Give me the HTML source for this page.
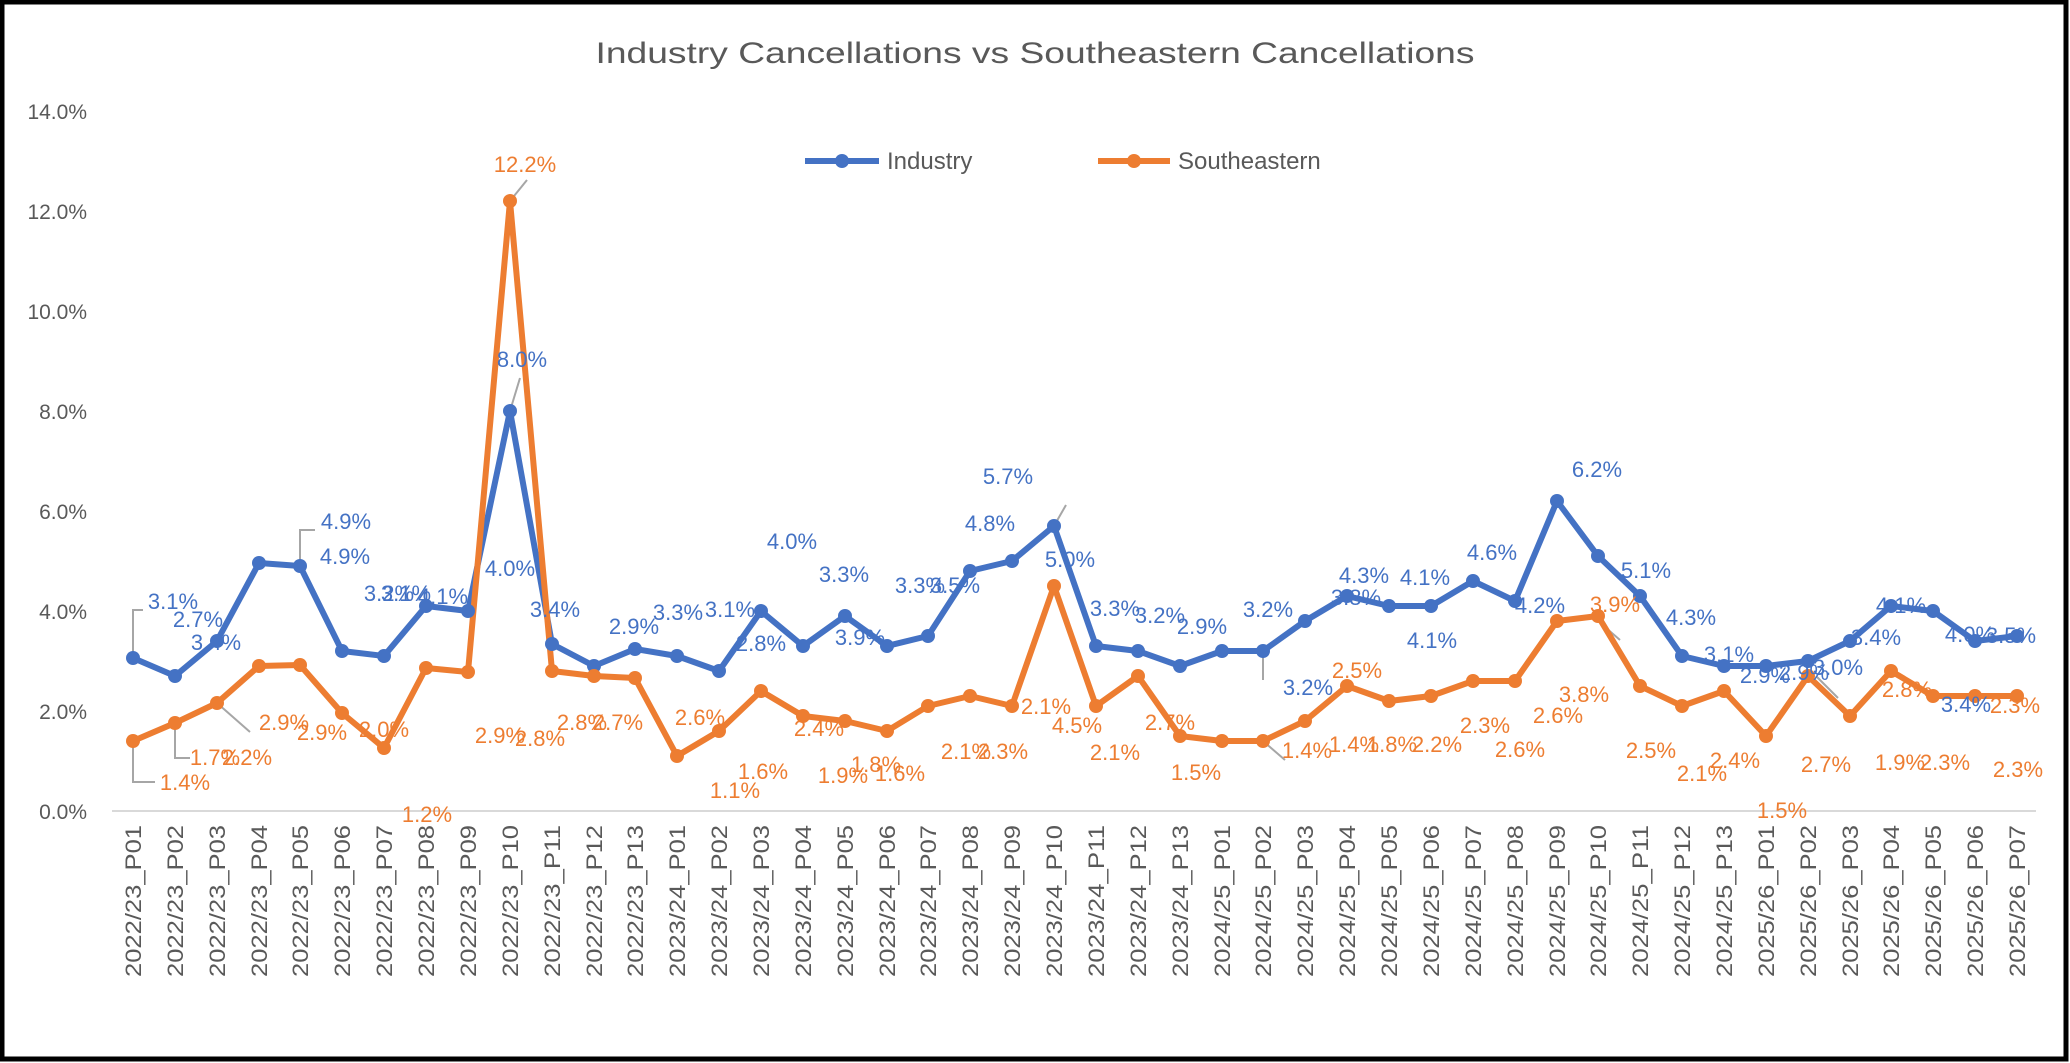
<!DOCTYPE html>
<html><head><meta charset="utf-8"><style>
html,body{margin:0;padding:0;background:#fff}
svg{display:block}
text{font-family:"Liberation Sans",sans-serif}
</style></head><body>
<svg width="2070" height="1063" viewBox="0 0 2070 1063" xmlns="http://www.w3.org/2000/svg">
<rect x="0" y="0" width="2070" height="1063" fill="#fff"/>
<rect x="2" y="2" width="2064" height="1057" fill="none" stroke="#000" stroke-width="5"/>
<text x="1035" y="63" font-size="30" fill="#595959" text-anchor="middle" textLength="879" lengthAdjust="spacingAndGlyphs">Industry Cancellations vs Southeastern Cancellations</text>
<g font-size="21" fill="#595959" text-anchor="end">
<text x="87" y="819">0.0%</text><text x="87" y="719">2.0%</text><text x="87" y="619">4.0%</text><text x="87" y="519">6.0%</text><text x="87" y="419">8.0%</text><text x="87" y="319">10.0%</text><text x="87" y="219">12.0%</text><text x="87" y="119">14.0%</text>
</g>
<line x1="112" y1="811" x2="2036" y2="811" stroke="#D9D9D9" stroke-width="2"/>
<!-- legend -->
<line x1="805" y1="161" x2="879" y2="161" stroke="#4472C4" stroke-width="6"/><circle cx="842" cy="161" r="7" fill="#4472C4"/>
<text x="887" y="169" font-size="24" fill="#595959">Industry</text>
<line x1="1098" y1="161" x2="1170" y2="161" stroke="#ED7D31" stroke-width="6"/><circle cx="1134" cy="161" r="7" fill="#ED7D31"/>
<text x="1178" y="169" font-size="24" fill="#595959">Southeastern</text>
<!-- x labels -->
<g font-size="22" fill="#595959" text-anchor="end">
<text transform="translate(141,825) rotate(-90)" textLength="152" lengthAdjust="spacingAndGlyphs">2022/23_P01</text>
<text transform="translate(183,825) rotate(-90)" textLength="152" lengthAdjust="spacingAndGlyphs">2022/23_P02</text>
<text transform="translate(225,825) rotate(-90)" textLength="152" lengthAdjust="spacingAndGlyphs">2022/23_P03</text>
<text transform="translate(267,825) rotate(-90)" textLength="152" lengthAdjust="spacingAndGlyphs">2022/23_P04</text>
<text transform="translate(308,825) rotate(-90)" textLength="152" lengthAdjust="spacingAndGlyphs">2022/23_P05</text>
<text transform="translate(350,825) rotate(-90)" textLength="152" lengthAdjust="spacingAndGlyphs">2022/23_P06</text>
<text transform="translate(392,825) rotate(-90)" textLength="152" lengthAdjust="spacingAndGlyphs">2022/23_P07</text>
<text transform="translate(434,825) rotate(-90)" textLength="152" lengthAdjust="spacingAndGlyphs">2022/23_P08</text>
<text transform="translate(476,825) rotate(-90)" textLength="152" lengthAdjust="spacingAndGlyphs">2022/23_P09</text>
<text transform="translate(518,825) rotate(-90)" textLength="152" lengthAdjust="spacingAndGlyphs">2022/23_P10</text>
<text transform="translate(560,825) rotate(-90)" textLength="152" lengthAdjust="spacingAndGlyphs">2022/23_P11</text>
<text transform="translate(602,825) rotate(-90)" textLength="152" lengthAdjust="spacingAndGlyphs">2022/23_P12</text>
<text transform="translate(643,825) rotate(-90)" textLength="152" lengthAdjust="spacingAndGlyphs">2022/23_P13</text>
<text transform="translate(685,825) rotate(-90)" textLength="152" lengthAdjust="spacingAndGlyphs">2023/24_P01</text>
<text transform="translate(727,825) rotate(-90)" textLength="152" lengthAdjust="spacingAndGlyphs">2023/24_P02</text>
<text transform="translate(769,825) rotate(-90)" textLength="152" lengthAdjust="spacingAndGlyphs">2023/24_P03</text>
<text transform="translate(811,825) rotate(-90)" textLength="152" lengthAdjust="spacingAndGlyphs">2023/24_P04</text>
<text transform="translate(853,825) rotate(-90)" textLength="152" lengthAdjust="spacingAndGlyphs">2023/24_P05</text>
<text transform="translate(895,825) rotate(-90)" textLength="152" lengthAdjust="spacingAndGlyphs">2023/24_P06</text>
<text transform="translate(936,825) rotate(-90)" textLength="152" lengthAdjust="spacingAndGlyphs">2023/24_P07</text>
<text transform="translate(978,825) rotate(-90)" textLength="152" lengthAdjust="spacingAndGlyphs">2023/24_P08</text>
<text transform="translate(1020,825) rotate(-90)" textLength="152" lengthAdjust="spacingAndGlyphs">2023/24_P09</text>
<text transform="translate(1062,825) rotate(-90)" textLength="152" lengthAdjust="spacingAndGlyphs">2023/24_P10</text>
<text transform="translate(1104,825) rotate(-90)" textLength="152" lengthAdjust="spacingAndGlyphs">2023/24_P11</text>
<text transform="translate(1146,825) rotate(-90)" textLength="152" lengthAdjust="spacingAndGlyphs">2023/24_P12</text>
<text transform="translate(1188,825) rotate(-90)" textLength="152" lengthAdjust="spacingAndGlyphs">2023/24_P13</text>
<text transform="translate(1230,825) rotate(-90)" textLength="152" lengthAdjust="spacingAndGlyphs">2024/25_P01</text>
<text transform="translate(1271,825) rotate(-90)" textLength="152" lengthAdjust="spacingAndGlyphs">2024/25_P02</text>
<text transform="translate(1313,825) rotate(-90)" textLength="152" lengthAdjust="spacingAndGlyphs">2024/25_P03</text>
<text transform="translate(1355,825) rotate(-90)" textLength="152" lengthAdjust="spacingAndGlyphs">2024/25_P04</text>
<text transform="translate(1397,825) rotate(-90)" textLength="152" lengthAdjust="spacingAndGlyphs">2024/25_P05</text>
<text transform="translate(1439,825) rotate(-90)" textLength="152" lengthAdjust="spacingAndGlyphs">2024/25_P06</text>
<text transform="translate(1481,825) rotate(-90)" textLength="152" lengthAdjust="spacingAndGlyphs">2024/25_P07</text>
<text transform="translate(1523,825) rotate(-90)" textLength="152" lengthAdjust="spacingAndGlyphs">2024/25_P08</text>
<text transform="translate(1565,825) rotate(-90)" textLength="152" lengthAdjust="spacingAndGlyphs">2024/25_P09</text>
<text transform="translate(1606,825) rotate(-90)" textLength="152" lengthAdjust="spacingAndGlyphs">2024/25_P10</text>
<text transform="translate(1648,825) rotate(-90)" textLength="152" lengthAdjust="spacingAndGlyphs">2024/25_P11</text>
<text transform="translate(1690,825) rotate(-90)" textLength="152" lengthAdjust="spacingAndGlyphs">2024/25_P12</text>
<text transform="translate(1732,825) rotate(-90)" textLength="152" lengthAdjust="spacingAndGlyphs">2024/25_P13</text>
<text transform="translate(1774,825) rotate(-90)" textLength="152" lengthAdjust="spacingAndGlyphs">2025/26_P01</text>
<text transform="translate(1816,825) rotate(-90)" textLength="152" lengthAdjust="spacingAndGlyphs">2025/26_P02</text>
<text transform="translate(1858,825) rotate(-90)" textLength="152" lengthAdjust="spacingAndGlyphs">2025/26_P03</text>
<text transform="translate(1899,825) rotate(-90)" textLength="152" lengthAdjust="spacingAndGlyphs">2025/26_P04</text>
<text transform="translate(1941,825) rotate(-90)" textLength="152" lengthAdjust="spacingAndGlyphs">2025/26_P05</text>
<text transform="translate(1983,825) rotate(-90)" textLength="152" lengthAdjust="spacingAndGlyphs">2025/26_P06</text>
<text transform="translate(2025,825) rotate(-90)" textLength="152" lengthAdjust="spacingAndGlyphs">2025/26_P07</text>
</g>
<!-- leader lines -->
<g stroke="#A6A6A6" stroke-width="2" fill="none">
<polyline points="133,658 133,610 143,610"/>
<polyline points="133,741 133,782 155,782"/>
<polyline points="175,723 175,758 190,758"/>
<line x1="217" y1="703" x2="250" y2="732"/>
<polyline points="300,566 300,530 315,530"/>
<line x1="510" y1="201" x2="527" y2="180"/>
<line x1="510" y1="411" x2="520" y2="378"/>
<line x1="1054" y1="526" x2="1066" y2="505"/>
<line x1="1598" y1="621" x2="1620" y2="640"/>
<line x1="1816" y1="676" x2="1838" y2="698"/>
<line x1="1263" y1="655" x2="1263" y2="680"/>
<line x1="1263" y1="741" x2="1285" y2="760"/>
</g>
<!-- series -->
<polyline fill="none" stroke="#4472C4" stroke-width="6" stroke-linejoin="round" points="133,658 175,676 217,641 259,563 300,566 342,651 384,656 426,606 468,611 510,411 552,644 594,666 635,649 677,656 719,671 761,611 803,646 845,616 887,646 928,636 970,571 1012,561 1054,526 1096,646 1138,651 1180,666 1222,651 1263,651 1305,621 1347,596 1389,606 1431,606 1473,581 1515,601 1557,501 1598,556 1640,596 1682,656 1724,666 1766,666 1808,661 1850,641 1891,606 1933,611 1975,641 2017,636"/>
<polyline fill="none" stroke="#ED7D31" stroke-width="6" stroke-linejoin="round" points="133,741 175,723 217,703 259,666 300,665 342,713 384,748 426,668 468,672 510,201 552,671 594,676 635,678 677,756 719,731 761,691 803,716 845,721 887,731 928,706 970,696 1012,706 1054,586 1096,706 1138,676 1180,736 1222,741 1263,741 1305,721 1347,686 1389,701 1431,696 1473,681 1515,681 1557,621 1598,616 1640,686 1682,706 1724,691 1766,736 1808,676 1850,716 1891,671 1933,696 1975,696 2017,696"/>
<g fill="#4472C4">
<circle cx="133" cy="658" r="7"/><circle cx="175" cy="676" r="7"/><circle cx="217" cy="641" r="7"/><circle cx="259" cy="563" r="7"/><circle cx="300" cy="566" r="7"/><circle cx="342" cy="651" r="7"/><circle cx="384" cy="656" r="7"/><circle cx="426" cy="606" r="7"/><circle cx="468" cy="611" r="7"/><circle cx="510" cy="411" r="7"/><circle cx="552" cy="644" r="7"/><circle cx="594" cy="666" r="7"/><circle cx="635" cy="649" r="7"/><circle cx="677" cy="656" r="7"/><circle cx="719" cy="671" r="7"/><circle cx="761" cy="611" r="7"/><circle cx="803" cy="646" r="7"/><circle cx="845" cy="616" r="7"/><circle cx="887" cy="646" r="7"/><circle cx="928" cy="636" r="7"/><circle cx="970" cy="571" r="7"/><circle cx="1012" cy="561" r="7"/><circle cx="1054" cy="526" r="7"/><circle cx="1096" cy="646" r="7"/><circle cx="1138" cy="651" r="7"/><circle cx="1180" cy="666" r="7"/><circle cx="1222" cy="651" r="7"/><circle cx="1263" cy="651" r="7"/><circle cx="1305" cy="621" r="7"/><circle cx="1347" cy="596" r="7"/><circle cx="1389" cy="606" r="7"/><circle cx="1431" cy="606" r="7"/><circle cx="1473" cy="581" r="7"/><circle cx="1515" cy="601" r="7"/><circle cx="1557" cy="501" r="7"/><circle cx="1598" cy="556" r="7"/><circle cx="1640" cy="596" r="7"/><circle cx="1682" cy="656" r="7"/><circle cx="1724" cy="666" r="7"/><circle cx="1766" cy="666" r="7"/><circle cx="1808" cy="661" r="7"/><circle cx="1850" cy="641" r="7"/><circle cx="1891" cy="606" r="7"/><circle cx="1933" cy="611" r="7"/><circle cx="1975" cy="641" r="7"/><circle cx="2017" cy="636" r="7"/>
</g>
<g fill="#ED7D31">
<circle cx="133" cy="741" r="7"/><circle cx="175" cy="723" r="7"/><circle cx="217" cy="703" r="7"/><circle cx="259" cy="666" r="7"/><circle cx="300" cy="665" r="7"/><circle cx="342" cy="713" r="7"/><circle cx="384" cy="748" r="7"/><circle cx="426" cy="668" r="7"/><circle cx="468" cy="672" r="7"/><circle cx="510" cy="201" r="7"/><circle cx="552" cy="671" r="7"/><circle cx="594" cy="676" r="7"/><circle cx="635" cy="678" r="7"/><circle cx="677" cy="756" r="7"/><circle cx="719" cy="731" r="7"/><circle cx="761" cy="691" r="7"/><circle cx="803" cy="716" r="7"/><circle cx="845" cy="721" r="7"/><circle cx="887" cy="731" r="7"/><circle cx="928" cy="706" r="7"/><circle cx="970" cy="696" r="7"/><circle cx="1012" cy="706" r="7"/><circle cx="1054" cy="586" r="7"/><circle cx="1096" cy="706" r="7"/><circle cx="1138" cy="676" r="7"/><circle cx="1180" cy="736" r="7"/><circle cx="1222" cy="741" r="7"/><circle cx="1263" cy="741" r="7"/><circle cx="1305" cy="721" r="7"/><circle cx="1347" cy="686" r="7"/><circle cx="1389" cy="701" r="7"/><circle cx="1431" cy="696" r="7"/><circle cx="1473" cy="681" r="7"/><circle cx="1515" cy="681" r="7"/><circle cx="1557" cy="621" r="7"/><circle cx="1598" cy="616" r="7"/><circle cx="1640" cy="686" r="7"/><circle cx="1682" cy="706" r="7"/><circle cx="1724" cy="691" r="7"/><circle cx="1766" cy="736" r="7"/><circle cx="1808" cy="676" r="7"/><circle cx="1850" cy="716" r="7"/><circle cx="1891" cy="671" r="7"/><circle cx="1933" cy="696" r="7"/><circle cx="1975" cy="696" r="7"/><circle cx="2017" cy="696" r="7"/>
</g>
<!-- industry labels -->
<g font-size="22" fill="#4472C4" text-anchor="middle">
<text x="173" y="609">3.1%</text><text x="198" y="627">2.7%</text><text x="216" y="650">3.4%</text><text x="346" y="529">4.9%</text><text x="345" y="564">4.9%</text><text x="389" y="601">3.2%</text><text x="406" y="601">3.1%</text><text x="443" y="604">4.1%</text><text x="510" y="576">4.0%</text><text x="522" y="367">8.0%</text><text x="555" y="617">3.4%</text><text x="634" y="634">2.9%</text><text x="678" y="620">3.3%</text><text x="730" y="617">3.1%</text><text x="761" y="651">2.8%</text><text x="792" y="549">4.0%</text><text x="844" y="582">3.3%</text><text x="860" y="645">3.9%</text><text x="920" y="593">3.3%</text><text x="955" y="593">3.5%</text><text x="990" y="531">4.8%</text><text x="1070" y="567">5.0%</text><text x="1008" y="484">5.7%</text><text x="1115" y="616">3.3%</text><text x="1160" y="623">3.2%</text><text x="1202" y="634">2.9%</text><text x="1268" y="617">3.2%</text><text x="1308" y="695">3.2%</text><text x="1356" y="605">3.8%</text><text x="1364" y="583">4.3%</text><text x="1425" y="585">4.1%</text><text x="1432" y="648">4.1%</text><text x="1492" y="560">4.6%</text><text x="1540" y="613">4.2%</text><text x="1597" y="477">6.2%</text><text x="1646" y="578">5.1%</text><text x="1691" y="625">4.3%</text><text x="1729" y="662">3.1%</text><text x="1765" y="683">2.9%</text><text x="1804" y="680">2.9%</text><text x="1838" y="675">3.0%</text><text x="1876" y="645">3.4%</text><text x="1901" y="613">4.1%</text><text x="1970" y="642">4.0%</text><text x="2011" y="643">3.5%</text><text x="1966" y="712">3.4%</text>
</g>
<!-- southeastern labels -->
<g font-size="22" fill="#ED7D31" text-anchor="middle">
<text x="185" y="790">1.4%</text><text x="215" y="765">1.7%</text><text x="247" y="765">2.2%</text><text x="284" y="730">2.9%</text><text x="322" y="740">2.9%</text><text x="384" y="737">2.0%</text><text x="427" y="822">1.2%</text><text x="540" y="746">2.8%</text><text x="500" y="743">2.9%</text><text x="525" y="172">12.2%</text><text x="582" y="730">2.8%</text><text x="618" y="730">2.7%</text><text x="700" y="725">2.6%</text><text x="735" y="798">1.1%</text><text x="763" y="779">1.6%</text><text x="819" y="736">2.4%</text><text x="843" y="783">1.9%</text><text x="876" y="772">1.8%</text><text x="900" y="781">1.6%</text><text x="966" y="759">2.1%</text><text x="1003" y="759">2.3%</text><text x="1046" y="714">2.1%</text><text x="1077" y="733">4.5%</text><text x="1115" y="760">2.1%</text><text x="1170" y="730">2.7%</text><text x="1196" y="780">1.5%</text><text x="1307" y="758">1.4%</text><text x="1354" y="752">1.4%</text><text x="1392" y="752">1.8%</text><text x="1357" y="678">2.5%</text><text x="1437" y="752">2.2%</text><text x="1485" y="733">2.3%</text><text x="1520" y="757">2.6%</text><text x="1558" y="723">2.6%</text><text x="1584" y="702">3.8%</text><text x="1615" y="612">3.9%</text><text x="1651" y="758">2.5%</text><text x="1702" y="781">2.1%</text><text x="1735" y="768">2.4%</text><text x="1782" y="818">1.5%</text><text x="1826" y="772">2.7%</text><text x="1900" y="770">1.9%</text><text x="1907" y="697">2.8%</text><text x="1945" y="770">2.3%</text><text x="2015" y="713">2.3%</text><text x="2018" y="777">2.3%</text>
</g>
</svg>
</body></html>
